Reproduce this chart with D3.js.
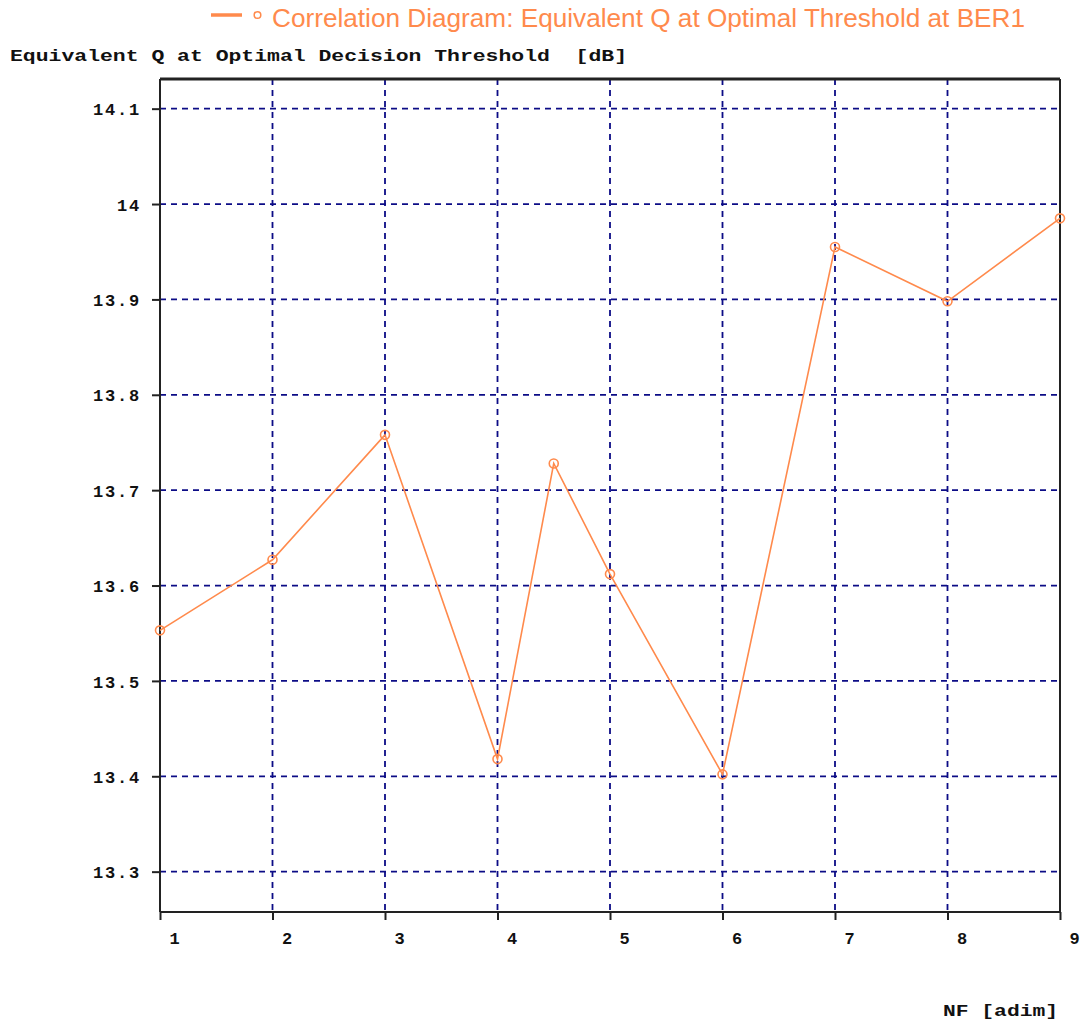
<!DOCTYPE html>
<html>
<head>
<meta charset="utf-8">
<script src="https://cdn.jsdelivr.net/npm/d3@7"></script>
<style>
  html, body { margin: 0; padding: 0; background: #ffffff; }
  svg { display: block; }
</style>
</head>
<body>
<svg id="chart" width="1086" height="1021"></svg>
<script>
// Noise figure sweep (NF, adim) and resulting equivalent Q (dB)
const nfValues = [1, 2, 3, 4, 4.5, 5, 6, 7, 8, 9];
const qValues  = [13.553, 13.627, 13.758, 13.418, 13.728, 13.612, 13.402, 13.955, 13.898, 13.985];

const xTicks = [1, 2, 3, 4, 5, 6, 7, 8, 9];
const yTicks = [13.3, 13.4, 13.5, 13.6, 13.7, 13.8, 13.9, 14, 14.1];
const xDomain = [1, 9];
const yDomain = [13.2577, 14.1311];

const seriesName = "Correlation Diagram: Equivalent Q at Optimal Threshold at BER1";
const yTitle = "Equivalent Q at Optimal Decision Threshold  [dB]";
const xTitle = "NF [adim]";

const orange = "#ff8a4c";
const gridBlue = "#0c0c86";
const monoFont = "'Liberation Mono', 'DejaVu Sans Mono', monospace";

const plot = { left: 160, right: 1060, top: 79, bottom: 912 };

const svg = d3.select("#chart");

const x = d3.scaleLinear().domain(xDomain).range([plot.left, plot.right]);
const y = d3.scaleLinear().domain(yDomain).range([plot.bottom, plot.top]);

// dashed grid
const grid = svg.append("g");
grid.selectAll("line.h").data(yTicks).join("line")
  .attr("x1", plot.left).attr("x2", plot.right)
  .attr("y1", d => y(d)).attr("y2", d => y(d))
  .attr("stroke", gridBlue).attr("stroke-width", 1.8)
  .attr("stroke-dasharray", "6,5");
grid.selectAll("line.v").data(xTicks.slice(1, -1)).join("line")
  .attr("x1", d => x(d)).attr("x2", d => x(d))
  .attr("y1", plot.top).attr("y2", plot.bottom)
  .attr("stroke", gridBlue).attr("stroke-width", 1.8)
  .attr("stroke-dasharray", "6,5");

// frame
svg.append("line").attr("x1", plot.left).attr("x2", plot.right)
  .attr("y1", plot.top).attr("y2", plot.top)
  .attr("stroke", "#222").attr("stroke-width", 3);
svg.append("line").attr("x1", plot.right).attr("x2", plot.right)
  .attr("y1", plot.top).attr("y2", plot.bottom)
  .attr("stroke", "#222").attr("stroke-width", 2);

// left axis
const yAxis = d3.axisLeft(y).tickValues(yTicks).tickSize(8).tickPadding(11)
  .tickFormat(d => d3.format("")(+d.toFixed(1)));
const gy = svg.append("g").attr("transform", `translate(${plot.left},0)`).call(yAxis);
gy.select(".domain").attr("stroke", "#222").attr("stroke-width", 2)
  .attr("d", `M0,${plot.top}V${plot.bottom}`);
gy.selectAll(".tick line").attr("stroke", "#222").attr("stroke-width", 2);
gy.selectAll(".tick text")
  .attr("font-family", monoFont).attr("font-weight", "bold")
  .attr("font-size", 17).attr("letter-spacing", "1.8px")
  .attr("fill", "#111").attr("dy", "0.36em");

// bottom axis
const xAxis = d3.axisBottom(x).tickValues(xTicks).tickSize(8).tickPadding(12)
  .tickFormat(d3.format("d"));
const gx = svg.append("g").attr("transform", `translate(0,${plot.bottom})`).call(xAxis);
gx.select(".domain").attr("stroke", "#222").attr("stroke-width", 2)
  .attr("d", `M${plot.left},0H${plot.right}`);
gx.selectAll(".tick line").attr("stroke", "#222").attr("stroke-width", 2);
gx.selectAll(".tick text")
  .attr("font-family", monoFont).attr("font-weight", "bold")
  .attr("font-size", 17).attr("fill", "#111")
  .attr("dx", 14);

// data line and markers
const line = d3.line().x((d, i) => x(nfValues[i])).y(d => y(d));
svg.append("path").datum(qValues)
  .attr("d", line)
  .attr("fill", "none").attr("stroke", orange).attr("stroke-width", 1.6);
svg.selectAll("circle.pt").data(qValues).join("circle")
  .attr("class", "pt")
  .attr("cx", (d, i) => x(nfValues[i])).attr("cy", d => y(d))
  .attr("r", 4.5).attr("fill", "none")
  .attr("stroke", orange).attr("stroke-width", 1.6);

// legend
const lg = svg.append("g");
lg.append("line").attr("x1", 211).attr("x2", 242).attr("y1", 15).attr("y2", 15)
  .attr("stroke", orange).attr("stroke-width", 3.5);
lg.append("circle").attr("cx", 257.5).attr("cy", 15).attr("r", 3.3)
  .attr("fill", "none").attr("stroke", orange).attr("stroke-width", 1.5);
lg.append("text").attr("x", 272).attr("y", 27)
  .attr("font-family", "'Liberation Sans Narrow', 'Arial Narrow', 'Liberation Sans', Arial, sans-serif")
  .attr("font-size", 25).attr("fill", orange)
  .attr("textLength", 753).attr("lengthAdjust", "spacingAndGlyphs")
  .text(seriesName);

// axis titles
svg.append("text").attr("x", 10).attr("y", 61)
  .attr("font-family", monoFont).attr("font-weight", "bold")
  .attr("font-size", 16).attr("fill", "#111")
  .attr("textLength", 617).attr("lengthAdjust", "spacingAndGlyphs")
  .attr("xml:space", "preserve").style("white-space", "pre")
  .text(yTitle);
svg.append("text").attr("x", 943).attr("y", 1016)
  .attr("font-family", monoFont).attr("font-weight", "bold")
  .attr("font-size", 16).attr("fill", "#111")
  .attr("textLength", 115).attr("lengthAdjust", "spacingAndGlyphs")
  .text(xTitle);
</script>
</body>
</html>
